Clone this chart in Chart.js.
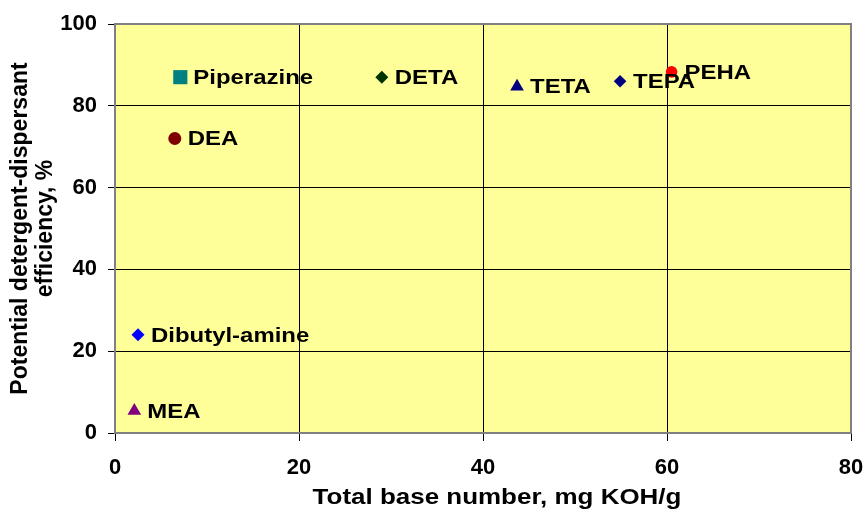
<!DOCTYPE html>
<html lang="en">
<head>
<meta charset="UTF-8">
<title>TBN vs detergent-dispersant efficiency</title>
<script src="https://cdn.jsdelivr.net/npm/chart.js@4/dist/chart.umd.min.js"></script>
<style>
  html, body { margin: 0; padding: 0; background: #ffffff; }
  #grafico { display: block; }
</style>
</head>
<body>
<canvas id="grafico" width="865" height="511"></canvas>

<script>
    // amines and their measured values
    var amines = ['Piperazine', 'DEA', 'DETA', 'TETA', 'TEPA', 'PEHA', 'Dibutyl-amine', 'MEA'];
    var tbn = [7.1, 6.5, 29, 43.7, 54.9, 60.5, 2.5, 2.1];
    var efficiency = [87, 72, 87, 84.7, 86, 88.3, 24, 5.4];

    var xTicks = [0, 20, 40, 60, 80];
    var yTicks = [0, 20, 40, 60, 80, 100];

    var xTitle = 'Total base number, mg KOH/g';
    var yTitle = ['Potential detergent-dispersant', 'efficiency, %'];

    // marker look per amine
    var colors = ['#008080', '#800000', '#003300', '#000080', '#000080', '#ff0000', '#0000ff', '#800080'];
    var shapes = ['rect', 'circle', 'rectRot', 'triangle', 'rectRot', 'circle', 'rectRot', 'triangle'];
    var sizes = [10, 6.5, 6.5, 7.9, 6.3, 5.8, 6.5, 7.9];

    var FONTE = '"Liberation Sans", Arial, sans-serif';

    var datasets = [];
    for (var i = 0; i < amines.length; i++) {
        datasets.push({
            label: amines[i],
            data: [{ x: tbn[i], y: efficiency[i] }],
            pointStyle: shapes[i],
            pointRadius: sizes[i],
            pointHoverRadius: sizes[i],
            backgroundColor: colors[i],
            borderColor: colors[i],
            borderWidth: 0
        });
    }

    // text with a little horizontal stretch
    function textoLargo(ctx, txt, x, y, tam, esticar, align) {
        ctx.save();
        ctx.translate(x, y);
        ctx.scale(esticar, 1);
        ctx.font = 'bold ' + tam + 'px ' + FONTE;
        ctx.fillStyle = '#000000';
        ctx.textAlign = align;
        ctx.textBaseline = 'middle';
        ctx.fillText(txt, 0, 0);
        ctx.restore();
    }

    // yellow plot area with grey frame
    var fundo = {
        id: 'fundo',
        beforeDraw: function (chart) {
            var a = chart.chartArea;
            var ctx = chart.ctx;
            ctx.save();
            ctx.fillStyle = '#ffff99';
            ctx.fillRect(a.left, a.top, a.right - a.left, a.bottom - a.top);
            ctx.restore();
        },
        beforeDatasetsDraw: function (chart) {
            var a = chart.chartArea;
            var ctx = chart.ctx;
            ctx.save();
            ctx.strokeStyle = '#808080';
            ctx.lineWidth = 2;
            ctx.strokeRect(a.left, a.top, a.right - a.left, a.bottom - a.top);
            ctx.restore();
        }
    };

    // names next to each marker, plus the x axis title
    var rotulos = {
        id: 'rotulos',
        afterDatasetsDraw: function (chart) {
            var ctx = chart.ctx;
            chart.data.datasets.forEach(function (ds, i) {
                var p = chart.getDatasetMeta(i).data[0];
                textoLargo(ctx, ds.label, p.x + 13, p.y + 1, 21, 1.14, 'left');
            });
        },
        afterDraw: function (chart) {
            var a = chart.chartArea;
            textoLargo(chart.ctx, xTitle, (a.left + a.right) / 2 + 14, 498, 22, 1.18, 'center');
        }
    };

    new Chart(document.getElementById('grafico'), {
        type: 'scatter',
        data: { datasets: datasets },
        plugins: [fundo, rotulos],
        options: {
            responsive: false,
            animation: false,
            devicePixelRatio: 1,
            layout: { padding: { top: 24, right: 14, left: 0, bottom: 0 } },
            plugins: {
                legend: { display: false },
                tooltip: { enabled: false }
            },
            scales: {
                x: {
                    type: 'linear',
                    min: 0,
                    max: 80,
                    afterBuildTicks: function (scale) {
                        scale.ticks = xTicks.map(function (v) { return { value: v }; });
                    },
                    afterFit: function (scale) {
                        scale.height = 78;
                        scale.paddingLeft = 0;
                        scale.paddingRight = 0;
                    },
                    grid: { color: '#000000', lineWidth: 1, tickLength: 8, tickColor: '#000000' },
                    border: { color: '#808080', width: 2 },
                    ticks: {
                        color: '#000000',
                        padding: 14,
                        maxRotation: 0,
                        font: { family: FONTE, size: 22, weight: 'bold' }
                    },
                    title: { display: false }
                },
                y: {
                    type: 'linear',
                    min: 0,
                    max: 100,
                    afterBuildTicks: function (scale) {
                        scale.ticks = yTicks.map(function (v) { return { value: v }; });
                    },
                    afterFit: function (scale) {
                        scale.width = 115;
                        scale.paddingTop = 0;
                        scale.paddingBottom = 0;
                    },
                    grid: { color: '#000000', lineWidth: 1, tickLength: 7, tickColor: '#000000' },
                    border: { color: '#808080', width: 2 },
                    ticks: {
                        color: '#000000',
                        padding: 11,
                        font: { family: FONTE, size: 22, weight: 'bold' }
                    },
                    title: {
                        display: true,
                        text: yTitle,
                        color: '#000000',
                        padding: { top: 8, bottom: 0 },
                        font: { family: FONTE, size: 23, weight: 'bold', lineHeight: '25px' }
                    }
                }
            }
        }
    });
</script>
</body>
</html>
